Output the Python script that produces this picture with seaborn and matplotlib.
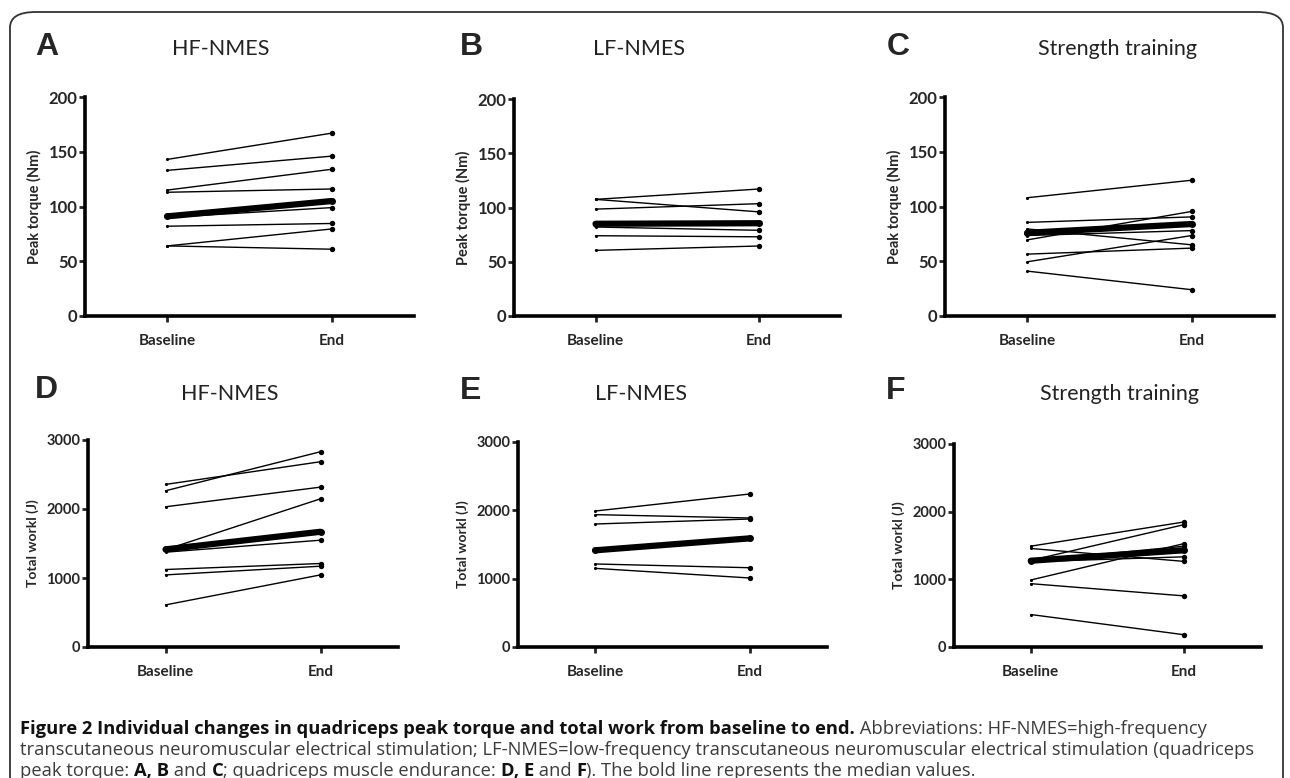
import matplotlib
matplotlib.use("Agg")
import matplotlib.pyplot as plt
from matplotlib.patches import FancyBboxPatch
import seaborn as sns
import pandas as pd

# ---- data ----
time_labels = ["Baseline", "End"]

a_base = [143, 133, 115, 113, 90, 82, 64, 64]
a_end = [167, 146, 134, 116, 99, 84.5, 79.5, 61]
a_median = [91, 105]

b_base = [107.5, 107.5, 98.5, 84, 82, 74, 60.5]
b_end = [117, 96, 103.5, 86, 79, 73, 64.5]
b_median = [85, 85.5]

c_base = [108, 85.5, 79.5, 73.5, 69.5, 56.5, 49.5, 41]
c_end = [124, 90.5, 65, 78, 95.5, 62, 73.5, 24]
c_median = [76, 84]

d_base = [2356, 2264, 2032, 1410, 1374, 1123, 1045, 610]
d_end = [2685, 2830, 2317, 2148, 1548, 1210, 1171, 1045]
d_median = [1415, 1670]

e_base = [1990, 1937, 1800, 1215, 1151]
e_end = [2239, 1888, 1873, 1160, 1010]
e_median = [1415, 1590]

f_base = [1490, 1456, 1280, 1260, 1270, 990, 936, 480]
f_end = [1848, 1265, 1809, 1333, 1490, 1529, 755, 181]
f_median = [1275, 1430]

panel_letters = ["A", "B", "C", "D", "E", "F"]
panel_titles = ["HF-NMES", "LF-NMES", "Strength training",
                "HF-NMES", "LF-NMES", "Strength training"]
y_labels = ["Peak torque (Nm)"] * 3 + ["Total workl (J)"] * 3

panels = [(a_base, a_end, a_median), (b_base, b_end, b_median),
          (c_base, c_end, c_median), (d_base, d_end, d_median),
          (e_base, e_end, e_median), (f_base, f_end, f_median)]

sns.set_style("white")
plt.rcParams["font.family"] = ["Lato", "DejaVu Sans"]

W, H = 1290, 778
fig = plt.figure(figsize=(W / 100, H / 100), dpi=100)

# axes boxes in pixels: left, right, top, bottom
boxes = [(85, 414, 97, 316), (514, 840, 99, 316), (945, 1274, 97, 316),
         (88, 398, 440, 647), (518, 827, 442, 647), (954, 1261, 444, 647)]
letter_pos = [(35, 47), (460, 47), (887, 47), (35, 390), (460, 391), (886, 391)]
title_pos = [(221, 49), (639, 49), (1117, 49), (230, 394), (641, 394), (1120, 394)]

for i, (base, end, med) in enumerate(panels):
    l, r, t, b = boxes[i]
    ax = fig.add_axes([l / W, 1 - b / H, (r - l) / W, (b - t) / H])
    rows = []
    for s, (v0, v1) in enumerate(zip(base, end)):
        rows.append({"subject": s, "time": 0, "value": v0})
        rows.append({"subject": s, "time": 1, "value": v1})
    df = pd.DataFrame(rows)
    sns.lineplot(data=df, x="time", y="value", units="subject", estimator=None,
                 color="black", lw=1.0, ax=ax)
    sns.scatterplot(data=df[df.time == 0], x="time", y="value", color="black",
                    s=5, linewidth=0, ax=ax, clip_on=False)
    sns.scatterplot(data=df[df.time == 1], x="time", y="value", color="black",
                    s=15, linewidth=0, ax=ax, clip_on=False)
    mdf = pd.DataFrame({"time": [0, 1], "value": med})
    sns.lineplot(data=mdf, x="time", y="value", color="black", lw=4.5, ax=ax,
                 marker="o", markersize=5, markeredgewidth=0)

    top = 200 if i < 3 else 3000
    ax.set_xlim(-0.5, 1.5)
    ax.set_ylim(0, top)
    ax.set_yticks([0, 50, 100, 150, 200] if i < 3 else [0, 1000, 2000, 3000])
    ax.set_xticks([0, 1])
    ax.set_xticklabels(time_labels)
    ax.set_xlabel("")
    ax.set_ylabel(y_labels[i], fontsize=10.5 if i < 3 else 10,
                  fontweight="bold", labelpad=5)
    for sp in ["top", "right"]:
        ax.spines[sp].set_visible(False)
    for sp in ["left", "bottom"]:
        ax.spines[sp].set_linewidth(2.6)
        ax.spines[sp].set_color("black")
    ax.tick_params(axis="y", direction="out", length=4, width=2, pad=1.5,
                   labelsize=12 if i < 3 else 10.5)
    ax.tick_params(axis="x", direction="out", length=4, width=2, pad=9,
                   labelsize=11)
    ax.tick_params(left=True, bottom=True)
    for lab in ax.get_yticklabels() + ax.get_xticklabels():
        lab.set_fontweight("bold")

    lx, ly = letter_pos[i]
    fig.text(lx / W, 1 - ly / H, panel_letters[i], fontsize=23, fontweight="bold",
             family="Liberation Sans", va="center", ha="left")
    tx, ty = title_pos[i]
    fig.text(tx / W, 1 - ty / H, panel_titles[i], fontsize=15.5, va="center",
             ha="center", color="#222222")

# rounded frame
frame = FancyBboxPatch((10 / W, -0.05), 1273 / W, 1 - 12 / H + 0.05,
                       boxstyle="round,pad=0,rounding_size=0.02",
                       transform=fig.transFigure, fill=False,
                       edgecolor="#333333", lw=1.3, clip_on=False)
fig.patches.append(frame)

# caption with mixed bold / regular runs
cap_lines = [
    [("Figure 2 Individual changes in quadriceps peak torque and total work from baseline to end.", True),
     (" Abbreviations: HF-NMES=high-frequency", False)],
    [("transcutaneous neuromuscular electrical stimulation; LF-NMES=low-frequency transcutaneous neuromuscular electrical stimulation (quadriceps", False)],
    [("peak torque: ", False), ("A, B", True), (" and ", False), ("C", True),
     ("; quadriceps muscle endurance: ", False), ("D, E", True), (" and ", False),
     ("F", True), ("). The bold line represents the median values.", False)],
]
cap_family = ["Open Sans", "DejaVu Sans"]
renderer = fig.canvas.get_renderer()
# fit font size so that the second line spans the same width as in the reference
probe = fig.text(0, 0, cap_lines[1][0][0], fontsize=12, family=cap_family)
cap_size = 12 * 1223 / probe.get_window_extent(renderer).width
probe.remove()

cap_y = [734, 755, 776]
for runs, yy in zip(cap_lines, cap_y):
    x = 20 / W
    for txt, bold in runs:
        tt = fig.text(x, 1 - yy / H, txt, fontsize=cap_size, family=cap_family,
                      fontweight="bold" if bold else "normal",
                      color="#111111" if bold else "#3c3c3c", va="baseline")
        x += tt.get_window_extent(renderer).width / W

fig.savefig("out.png", dpi=100)
